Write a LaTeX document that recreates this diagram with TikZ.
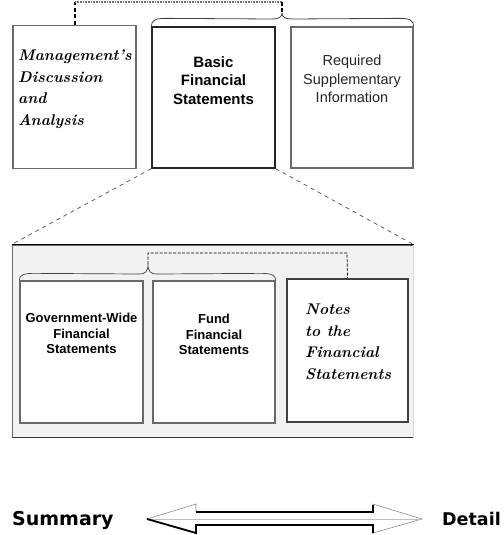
\documentclass[tikz,border=0pt]{standalone}
\usepackage{fontspec}
\newfontfamily\arialf{Liberation Sans}
\newfontfamily\dejaf{DejaVu Sans}
\usetikzlibrary{calc}
\definecolor{boxgray}{HTML}{6A6A6A}
\definecolor{panelfill}{HTML}{F2F2F2}
\tikzset{
  x=1pt, y=-1pt,
  box/.style={draw=boxgray, line width=1.3pt, fill=white, inner sep=0pt},
  darkbox/.style={draw=black!85, line width=1.3pt, fill=white, inner sep=0pt},
  sanslbl/.style={inner sep=0pt, align=center, font=\arialf\bfseries\fontsize{15}{18.5}\selectfont},
  sansreg/.style={inner sep=0pt, align=center, text=black!85, font=\arialf\fontsize{14.5}{18.5}\selectfont},
  smallsans/.style={inner sep=0pt, align=center, font=\arialf\bfseries\fontsize{13}{15.5}\selectfont},
  scriptlbl/.style={inner sep=0pt, align=left, font=\bfseries\itshape\fontsize{15.5}{21.5}\selectfont},
  zoomline/.style={draw=black!70, dashed, dash pattern=on 4pt off 4pt, line width=0.7pt},
  bracel/.style={draw=black!75, line width=0.8pt},
  linkthick/.style={draw=black, line width=1.8pt, dash pattern=on 4pt off 2.5pt},
  linkthin/.style={draw=black, line width=0.7pt, dash pattern=on 3pt off 1.5pt},
  endlbl/.style={inner sep=0pt, anchor=base west, font=\dejaf\bfseries\fontsize{19}{22}\selectfont},
}
\begin{document}
\begin{tikzpicture}
\useasboundingbox (0,0) rectangle (503,535);
% ---- top row ----
\node[box, minimum width=123pt, minimum height=143pt] (mda) at (74.5,97) {};
\node[darkbox, minimum width=123pt, minimum height=141pt] (bfs) at (213.5,97.5) {};
\node[box, minimum width=122pt, minimum height=141pt] (rsi) at (352,97.5) {};
\node[scriptlbl, anchor=north west] (mdat) at (18,50) {Management's\\Discussion\\and\\Analysis};
\node[sanslbl, anchor=north] (bfst) at (213.5,56) {Basic\\Financial\\Statements};
\node[sansreg, anchor=north] (rsit) at (352,55) {Required\\Supplementary\\Information};
% top brace and link
\coordinate (tbtip) at (282,13);
\draw[bracel] (bfs.north west) .. controls ($(bfs.north west)+(0,-6)$) and ($(bfs.north west)+(4,-8)$) .. ($(bfs.north west)+(14,-8)$)
  -- (272,19) .. controls (279,19) and (282,17) .. (tbtip)
  .. controls (282,17) and (285,19) .. (292,19)
  -- ($(rsi.north east)+(-14,-8)$) .. controls ($(rsi.north east)+(-4,-8)$) and ($(rsi.north east)+(0,-6)$) .. (rsi.north east);
\coordinate (tl1) at (75,2);
\coordinate (tl2) at (282,2);
\draw[linkthick] (mda.north -| tl1) -- (tl1);
\draw[draw=black!55, line width=1.2pt, dash pattern=on 1pt off 0.6pt] (tl1) -- (tl2);
\draw[linkthick] (tl2) -- (tbtip);
% ---- lower panel ----
\node[draw=boxgray, line width=1pt, fill=panelfill, minimum width=401pt, minimum height=192pt, inner sep=0pt] (panel) at (212.5,341) {};
\draw[black, line width=1.4pt] (panel.north west) -- (panel.north east);
\draw[black!80, line width=1.2pt] (panel.south west) -- (panel.south east);
\draw[white!85!black, line width=1pt] (panel.north east) -- (panel.south east);
\draw[zoomline] (bfs.south west) -- (panel.north west);
\draw[zoomline] (bfs.south east) -- (panel.north east);
\node[box, minimum width=123pt, minimum height=142pt] (gw) at (81.5,352) {};
\node[box, minimum width=122pt, minimum height=142pt] (ff) at (214,352) {};
\node[darkbox, draw=black!75, minimum width=121pt, minimum height=143pt] (nfs) at (347.5,350.5) {};
\node[smallsans, anchor=north] (gwt) at (81.5,313) {Government-Wide\\Financial\\Statements};
\node[smallsans, anchor=north] (fft) at (214,314) {Fund\\Financial\\Statements};
\node[scriptlbl, anchor=north west] (nfst) at (305,304) {Notes\\to the\\Financial\\Statements};
% lower brace and link
\coordinate (lbtip) at (148,264);
\draw[bracel, line width=0.7pt] (gw.north west) .. controls ($(gw.north west)+(0,-5)$) and ($(gw.north west)+(4,-7)$) .. ($(gw.north west)+(14,-7)$)
  -- (139,274) .. controls (145,274) and (148,272) .. (lbtip)
  .. controls (148,272) and (151,274) .. (157,274)
  -- ($(ff.north east)+(-14,-7)$) .. controls ($(ff.north east)+(-4,-7)$) and ($(ff.north east)+(0,-5)$) .. (ff.north east);
\coordinate (ll1) at (148,253);
\coordinate (ll2) at (347,253);
\draw[linkthin] (lbtip) -- (ll1) -- (ll2) -- (nfs.north);
% ---- summary / detail arrow ----
\node[endlbl] (sum) at (12,525) {Summary};
\node[endlbl, font=\dejaf\bfseries\fontsize{17.5}{20}\selectfont] (det) at (442,525) {Detail};
\coordinate (al) at (147,519);
\coordinate (ar) at (422,519);
\fill[white] (al) -- (196,504) -- (196,512) -- (373,512) -- (373,504) -- (ar) -- (373,533) -- (373,525) -- (196,525) -- (196,533) -- cycle;
\draw[black!45, line width=0.6pt] (196,525) -- (196,533) -- (al) -- (196,504) -- (196,512) -- (373,512) -- (373,504) -- (ar) -- (373,533) -- (373,525);
\draw[black!25, line width=0.5pt] (al) -- (ar);
\draw[black, line width=1.2pt] (196,512) -- (373,512) -- (373,505);
\draw[black, line width=1.8pt] (al) -- (196,533) -- (196,525) -- (373,525) -- (373,533);
\end{tikzpicture}
\end{document}
